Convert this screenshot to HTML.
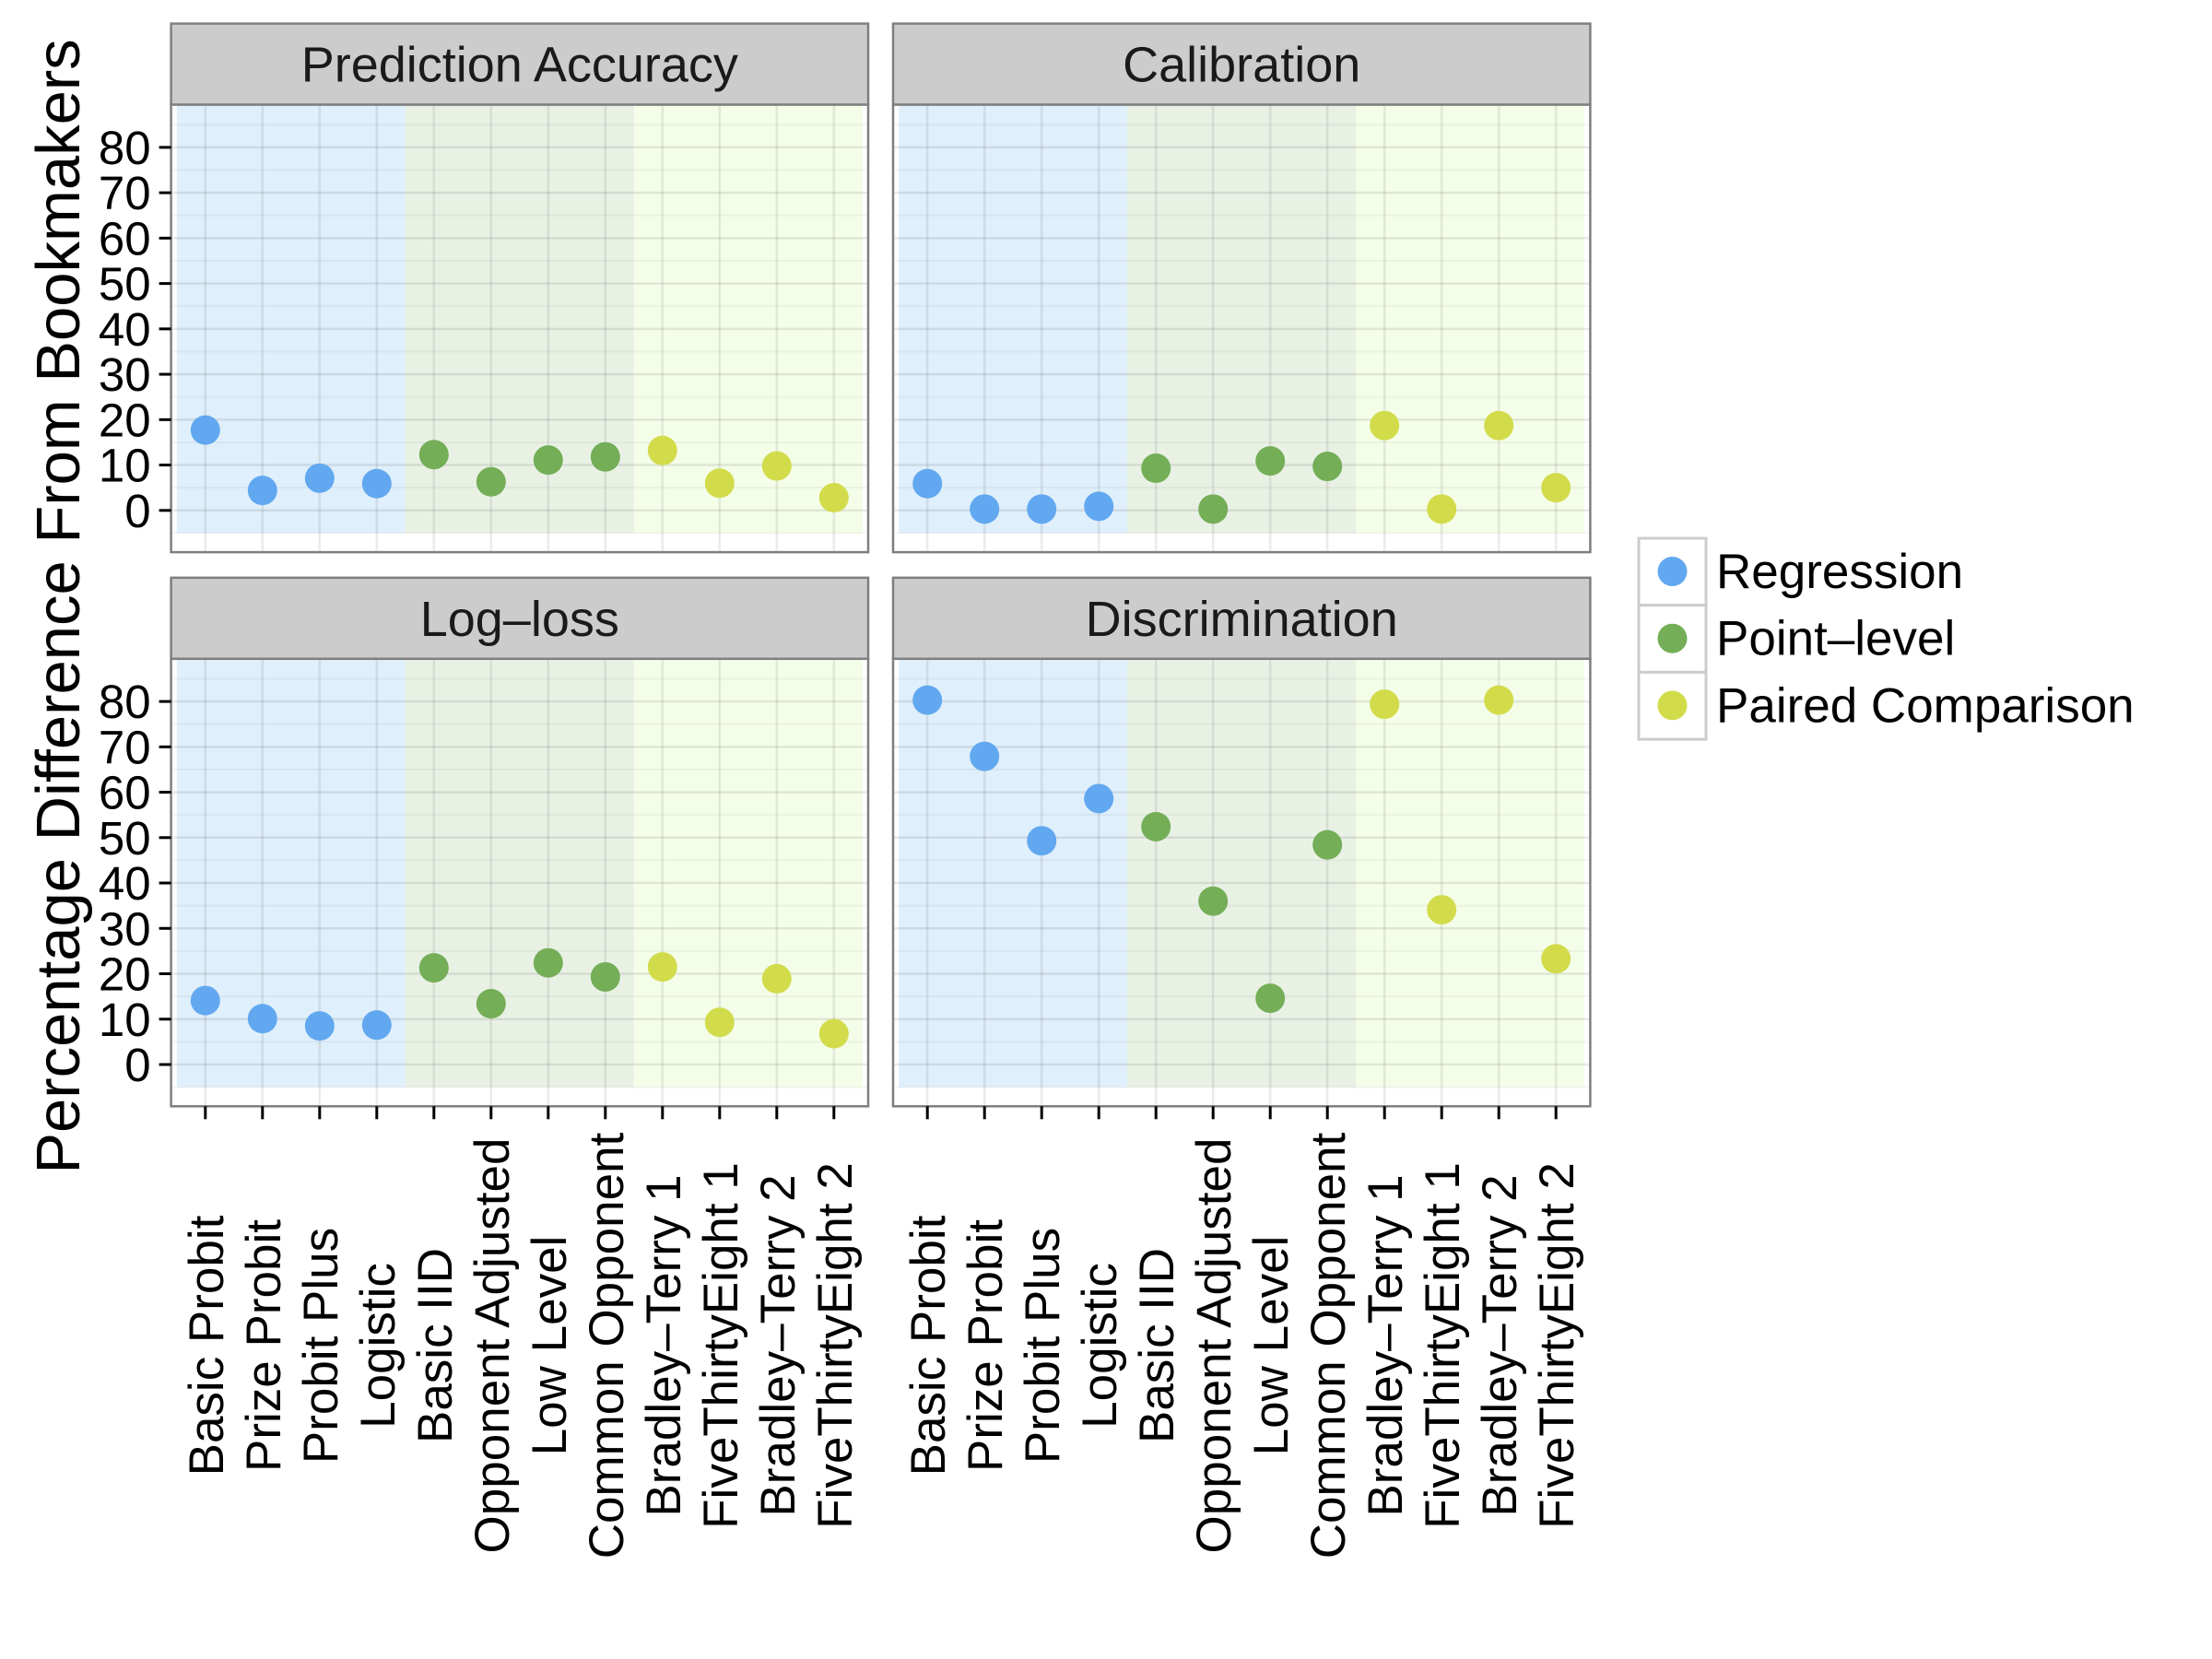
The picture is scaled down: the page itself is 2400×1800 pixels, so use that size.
<!DOCTYPE html>
<html><head><meta charset="utf-8"><style>
html,body{margin:0;padding:0;background:#fff;}
svg{display:block;font-family:"Liberation Sans",Arial,sans-serif;}
</style></head><body>
<svg id="chart" width="2400" height="1800" viewBox="0 0 2400 1800" xmlns="http://www.w3.org/2000/svg">
<text transform="translate(86,658) rotate(-90)" text-anchor="middle" font-size="67" fill="#000">Percentage Difference From Bookmakers</text>
<g id="panels"></g>
<g id="legend"></g>
</svg>
<script>
const categories = ["Basic Probit","Prize Probit","Probit Plus","Logistic","Basic IID","Opponent Adjusted","Low Level","Common Opponent","Bradley\u2013Terry 1","FiveThirtyEight 1","Bradley\u2013Terry 2","FiveThirtyEight 2"];
const groupOf = [0,0,0,0,1,1,1,1,2,2,2,2];
const groups = ["Regression","Point\u2013level","Paired Comparison"];
const panelTitles = ["Prediction Accuracy","Calibration","Log\u2013loss","Discrimination"];
const accuracyValues = [17.7,4.4,7.1,5.9,12.3,6.3,11.1,11.8,13.2,6.0,9.8,2.8];
const calibrationValues = [5.9,0.3,0.3,0.9,9.3,0.3,10.9,9.7,18.7,0.3,18.7,5.0];
const loglossValues = [14.1,10.1,8.5,8.7,21.3,13.4,22.4,19.3,21.5,9.3,18.9,6.8];
const discriminationValues = [80.3,67.9,49.3,58.6,52.4,36.0,14.6,48.4,79.4,34.1,80.3,23.3];
const yTicks = [0,10,20,30,40,50,60,70,80];

const NS="http://www.w3.org/2000/svg";
const pointColors=["#61a8f0","#74ae57","#d2dc4b"];
const shadeColors=["#dfeffb","#e9f1e5","#f4fde8"];
const seriesList=[accuracyValues,calibrationValues,loglossValues,discriminationValues];
const colLeft=[185.6,969], rowTop=[25.6,626.8];
const stripH=88, panelW=756.4, panelH=485.5;
const xMin=0.4,xMax=12.6,yMin=-9.2,yMax=89.4;
function mk(tag,attrs,parent){const e=document.createElementNS(NS,tag);for(const k in attrs)e.setAttribute(k,attrs[k]);parent.appendChild(e);return e;}
const root=document.getElementById('panels');
seriesList.forEach((vals,p)=>{
  const c=p%2,r=Math.floor(p/2);
  const L=colLeft[c], T=rowTop[r]+stripH;
  const sx=v=>L+(v-xMin)/(xMax-xMin)*panelW;
  const sy=v=>T+(yMax-v)/(yMax-yMin)*panelH;
  const g=mk('g',{},root);
  
  
  const st=mk('rect',{x:L,y:rowTop[r],width:panelW,height:stripH,fill:'#cccccc',stroke:'#7f7f7f','stroke-width':2.5},g);
  
  
  const stt=mk('text',{x:L+panelW/2,y:rowTop[r]+stripH/2+19,'text-anchor':'middle','font-size':54,fill:'#1a1a1a'},g);
  stt.textContent=panelTitles[p];
  
  
  mk('rect',{x:L,y:T,width:panelW,height:panelH,fill:'#fff'},g);
  for(let k=0;k<3;k++){
    const sh=mk('rect',{x:sx(0.5+4*k),y:T,width:sx(4.5+4*k)-sx(0.5+4*k),height:sy(-5)-T,fill:shadeColors[k]},g);
    
    
  }
  for(let v=-5;v<=85;v+=10){mk('line',{x1:L,x2:L+panelW,y1:sy(v),y2:sy(v),stroke:'rgba(0,0,0,0.04)','stroke-width':2},g);}
  yTicks.forEach(v=>{mk('line',{x1:L,x2:L+panelW,y1:sy(v),y2:sy(v),stroke:'rgba(0,0,0,0.085)','stroke-width':2.5},g);});
  categories.forEach((cat,i)=>{mk('line',{x1:sx(i+1),x2:sx(i+1),y1:T,y2:T+panelH,stroke:'rgba(0,0,0,0.08)','stroke-width':2.5},g);});
  vals.forEach((v,i)=>{
    const pt=mk('circle',{cx:sx(i+1),cy:sy(v),r:16,fill:pointColors[groupOf[i]]},g);
    
    
  });
  mk('rect',{x:L,y:T,width:panelW,height:panelH,fill:'none',stroke:'#7f7f7f','stroke-width':2.5},g);
  if(c===0){
    yTicks.forEach(v=>{
      mk('line',{x1:L-13,x2:L,y1:sy(v),y2:sy(v),stroke:'#000','stroke-width':3},g);
      const t=mk('text',{x:L-22,y:sy(v)+18,'text-anchor':'end','font-size':51,fill:'#000'},g);
      t.textContent=v;
      
      
    });
  }
  if(r===1){
    categories.forEach((cat,i)=>{
      const x=sx(i+1);
      mk('line',{x1:x,x2:x,y1:T+panelH,y2:T+panelH+14,stroke:'#000','stroke-width':3},g);
      const t=mk('text',{transform:'translate('+(x+19)+',1460) rotate(-90)','text-anchor':'middle','font-size':53,fill:'#000'},g);
      t.textContent=cat;
      
      
    });
  }
});
const lg=document.getElementById('legend');
groups.forEach((name,k)=>{
  const y0=584+k*72.7;
  const box=mk('rect',{x:1778,y:y0,width:73,height:72.7,fill:'#fff',stroke:'#cccccc','stroke-width':3},lg);
  
  
  mk('circle',{cx:1814.5,cy:y0+36,r:16,fill:pointColors[k]},lg);
  const t=mk('text',{x:1862,y:y0+54,'font-size':53,fill:'#000'},lg);
  t.textContent=name;
  
  
});
</script>
</body></html>
